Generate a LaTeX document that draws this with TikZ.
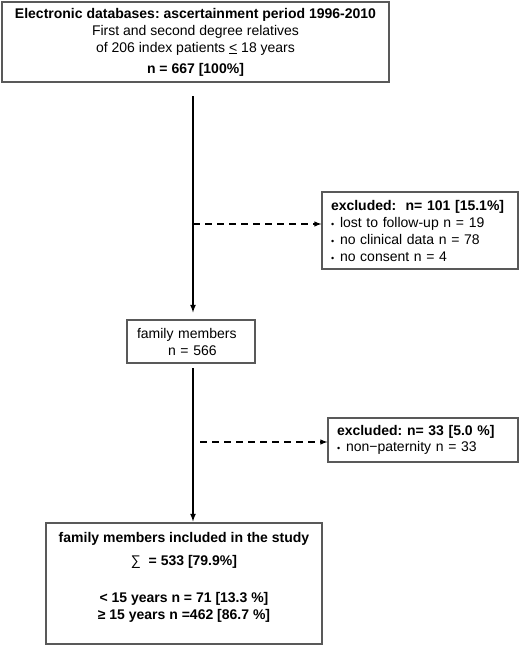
\documentclass[tikz,border=0pt]{standalone}
\usepackage{fontspec}
\setmainfont{Liberation Sans}
\frenchspacing
\tikzset{>=latex}
\tikzset{box/.style={draw=black!65,line width=1.2pt,inner ysep=0pt,font=\fontsize{14}{17}\selectfont},
	flow/.style={->,line width=1.6pt},
	skip/.style={->,line width=1.4pt,dash pattern=on 7pt off 5pt}}
\newcommand{\itemdot}{\makebox[9pt][l]{\fontsize{9}{9}\selectfont•}}

\begin{document}
\begin{tikzpicture}[x=1pt,y=-1pt]
	\useasboundingbox (0,0) rectangle (520,649);
	\node[box,minimum width=387pt,minimum height=80pt,align=center] (src) at(195.5,42) {\textbf{Electronic databases: ascertainment period 1996-2010}\\First and second degree relatives\\of 206 index patients \underline{<} 18 years\\[4pt]\textbf{n = 667 [100\%]}};
	\node[box,text width=178pt,inner xsep=9pt,minimum height=77pt,align=left] (exa) at(420,230.5) {\textbf{excluded:\ \ n= 101 [15.1\%]}\\\itemdot lost to follow-up n = 19\\\itemdot no clinical data n = 78\\\itemdot no consent n = 4};
	\node[box,text width=108pt,inner xsep=10pt,minimum height=43pt,align=left] (fam) at(191,341.5) {family members\\\hspace*{31pt}n = 566};
	\node[box,text width=172pt,inner xsep=9pt,minimum height=44pt,align=left] (exb) at(423,440) {\textbf{excluded: n= 33 [5.0 \%]}\\[-1pt]\itemdot non−paternity n = 33};
	\node[box,minimum width=276pt,minimum height=121pt,align=center,font=\fontsize{14}{17}\selectfont\bfseries] (incl) at(184,583.5) {family members included in the study\\[6pt]{\mdseries ∑}\ \ = 533 [79.9\%]\\[20pt]< 15 years n = 71 [13.3 \%]\\≥ 15 years n =462 [86.7 \%]\\[-2pt]\mbox{}};
	\coordinate (s1) at(193,96);
	\coordinate (s2) at(193,368);
	\coordinate (d1) at(193,224);
	\coordinate (d2) at(200,442);
	\draw[flow,shorten >=7pt] (s1)--(s1 |- fam.north);
	\draw[flow,shorten >=1pt] (s2)--(s2 |- incl.north);
	\draw[skip] (d1)--(d1 -| exa.west);
	\draw[skip] (d2)--(d2 -| exb.west);
\end{tikzpicture}
\end{document}
